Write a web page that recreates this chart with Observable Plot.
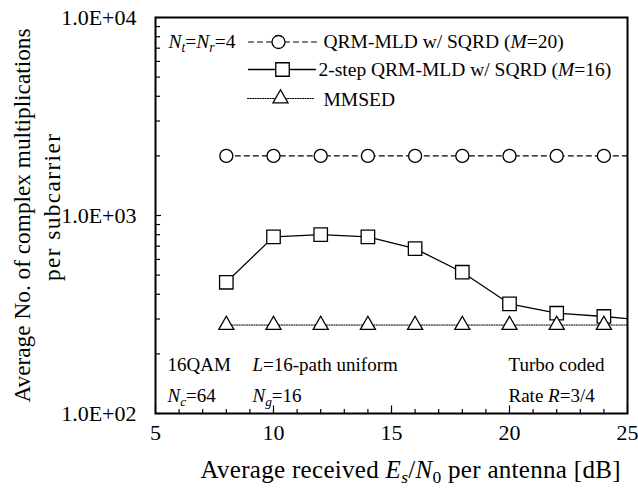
<!DOCTYPE html>
<html>
<head>
<meta charset="utf-8">
<script src="https://cdn.jsdelivr.net/npm/d3@7"></script>
<script src="https://cdn.jsdelivr.net/npm/@observablehq/plot@0.6"></script>
<style>
  html, body { margin: 0; padding: 0; background: white; }
  svg, svg text { font-family: "Liberation Serif", "Times New Roman", serif !important; }
</style>
</head>
<body>
<div id="chart"></div>
<script>
// ---------- data ----------
const snr = [8, 10, 12, 14, 16, 18, 20, 22, 24];
const qrm20 = [2000, 2000, 2000, 2000, 2000, 2000, 2000, 2000, 2000];
const twoStep16 = [460, 780, 800, 780, 680, 517, 358, 321, 309];
const mmsed = [280, 280, 280, 280, 280, 280, 280, 280, 280];
// values where the curves meet the right edge of the frame (25 dB)
const edgeSnr = 25;
const edgeValues = {qrm: 2000, two: 301, mmsed: 280};

const xMajorTicks = [5, 10, 15, 20, 25];
const xTickLabels = ["5", "10", "15", "20", "25"];
const xMinorTicks = [6, 7, 8, 9, 11, 12, 13, 14, 16, 17, 18, 19, 21, 22, 23, 24];
const yMajorTicks = [100, 1000, 10000];
const yTickLabels = ["1.0E+02", "1.0E+03", "1.0E+04"];
const yMinorTicks = [200, 300, 400, 500, 600, 700, 800, 900, 2000, 3000, 4000, 5000, 6000, 7000, 8000, 9000];

const seriesNames = ["QRM-MLD w/ SQRD (*M*=20)", "2-step QRM-MLD w/ SQRD (*M*=16)", "MMSED"];
const xTitle = "Average received *E*_{s}/*N*_(0) per antenna [dB]";
const yTitle1 = "Average No. of complex multiplications";
const yTitle2 = "per subcarrier";
const noteTopLeft = "*N*_{t}=*N*_{r}=4";
const notesBottom = [
  ["16QAM", "*N*_{c}=64"],
  ["*L*=16-path uniform", "*N*_{g}=16"],
  ["Turbo coded", "Rate *R*=3/4"]
];

// ---------- tables ----------
const rows = (vals) => snr.map((s, i) => ({snr: s, value: vals[i]}));
const qrmPts = rows(qrm20), twoPts = rows(twoStep16), mmPts = rows(mmsed);
const qrmLine = [...qrmPts, {snr: edgeSnr, value: edgeValues.qrm}];
const twoLine = [...twoPts, {snr: edgeSnr, value: edgeValues.two}];
const mmLine = [...mmPts, {snr: edgeSnr, value: edgeValues.mmsed}];

// ---------- styles / layout ----------
const FONT = '"Liberation Serif", "Times New Roman", serif';
const TICK_FS = 22, XTITLE_FS = 25, YTITLE_FS = 23.3, LEGEND_FS = 19.5, NOTE_FS = 19;
const textLengths = {[yTitle2]: 147, [xTitle]: 420};
const lineShape = {draw(ctx, l) { ctx.moveTo(0, 0); ctx.lineTo(0, -l); }};
const styles = [
  {dash: "5,4", sw: 1.2, symbol: "circle", r: 6.5},
  {dash: null, sw: 1.3, symbol: "square", r: 7.6},
  {dash: "1.2,1.3", sw: 1.1, symbol: "triangle", r: 5.6}
];
const legendRows = [
  {dy: 24.5, lineDx: 93, len: 70, symDx: 123, textDx: 168, textDy: 24},
  {dy: 52, lineDx: 93, len: 67, symDx: 127, textDx: 163, textDy: 52},
  {dy: 81, lineDx: 92, len: 66, symDx: 125, textDx: 168, textDy: 82}
];

const marks = [];
// frame ticks
marks.push(Plot.axisX({ticks: xMinorTicks, tickSize: -4, tickFormat: () => "", label: null, strokeWidth: 1.2}));
marks.push(Plot.axisX({ticks: xMajorTicks, tickSize: -7.5, tickFormat: () => "", label: null, strokeWidth: 1.2}));
marks.push(Plot.axisX({ticks: xMajorTicks, tickSize: 0, tickPadding: 11, tickFormat: (d) => xTickLabels[xMajorTicks.indexOf(d)], label: null, fontSize: TICK_FS, fontFamily: FONT}));
marks.push(Plot.axisY({ticks: yMinorTicks, tickSize: -5, tickFormat: () => "", label: null, strokeWidth: 1.2}));
marks.push(Plot.axisY({ticks: yMajorTicks, tickSize: -6, tickFormat: () => "", label: null, strokeWidth: 1.2}));
marks.push(Plot.axisY({ticks: yMajorTicks, tickSize: 0, tickPadding: 19, tickFormat: (d) => yTickLabels[yMajorTicks.indexOf(d)], label: null, fontSize: TICK_FS, fontFamily: FONT}));

// series lines
[qrmLine, twoLine, mmLine].forEach((data, i) => {
  marks.push(Plot.line(data, {x: "snr", y: "value", stroke: "black", strokeWidth: styles[i].sw, strokeDasharray: styles[i].dash, clip: true}));
});
// series markers
[qrmPts, twoPts, mmPts].forEach((data, i) => {
  marks.push(Plot.dot(data, {x: "snr", y: "value", symbol: styles[i].symbol, r: styles[i].r, fill: "white", stroke: "black", strokeWidth: 1.3}));
});

// frame
marks.push(Plot.frame({stroke: "black", strokeWidth: 2}));

// legend
legendRows.forEach((L, i) => {
  marks.push(Plot.vector([0], {frameAnchor: "top-left", dx: L.lineDx, dy: L.dy, length: L.len, rotate: 90, anchor: "start", shape: lineShape, stroke: "black", strokeWidth: styles[i].sw, strokeDasharray: styles[i].dash}));
  marks.push(Plot.dot([0], {frameAnchor: "top-left", dx: L.symDx, dy: L.dy, symbol: styles[i].symbol, r: styles[i].r, fill: "white", stroke: "black", strokeWidth: 1.3}));
  marks.push(Plot.text([seriesNames[i]], {text: d => d, frameAnchor: "top-left", dx: L.textDx, dy: L.textDy, textAnchor: "start", lineAnchor: "middle", fontSize: LEGEND_FS, fontFamily: FONT, fill: "black"}));
});
marks.push(Plot.text([noteTopLeft], {text: d => d, frameAnchor: "top-left", dx: 13, dy: 24, textAnchor: "start", lineAnchor: "middle", fontSize: LEGEND_FS, fontFamily: FONT, fill: "black"}));

// bottom notes
const noteDx = [12, 97, 353];
const noteDy = [-48.5, -17.5];
notesBottom.forEach((col, c) => col.forEach((t, r) => {
  marks.push(Plot.text([t], {text: d => d, frameAnchor: "bottom-left", dx: noteDx[c], dy: noteDy[r], textAnchor: "start", lineAnchor: "middle", fontSize: NOTE_FS, fontFamily: FONT, fill: "black"}));
}));

// axis titles
marks.push(Plot.text([xTitle], {text: d => d, frameAnchor: "bottom", dx: 19, dy: 56, textAnchor: "middle", lineAnchor: "middle", fontSize: XTITLE_FS, fontFamily: FONT, fill: "black"}));
marks.push(Plot.text([yTitle1], {text: d => d, frameAnchor: "left", dx: -133, dy: 0, rotate: -90, textAnchor: "middle", lineAnchor: "middle", fontSize: YTITLE_FS, fontFamily: FONT, fill: "black"}));
marks.push(Plot.text([yTitle2], {text: d => d, frameAnchor: "left", dx: -103, dy: -8, rotate: -90, textAnchor: "middle", lineAnchor: "middle", fontSize: YTITLE_FS, fontFamily: FONT, fill: "black"}));

const svg = Plot.plot({
  width: 638,
  height: 491,
  marginLeft: 155,
  marginRight: 11,
  marginTop: 17,
  marginBottom: 78,
  style: {fontFamily: FONT, background: "white", color: "black", overflow: "visible"},
  x: {domain: [5, 25]},
  y: {type: "log", domain: [100, 10000]},
  marks
});
svg.setAttribute("font-family", FONT);
document.getElementById("chart").append(svg);

// ---------- rich text (italics and subscripts) and fitted widths ----------
const tokenRe = /\*([^*]+)\*|_\{([^}]+)\}|_\(([^)]+)\)|([^*_]+)/g;
svg.querySelectorAll("text").forEach(el => {
  const s = el.textContent;
  const fitted = textLengths[s];
  if (/[*_]/.test(s)) {
    const fs = parseFloat(getComputedStyle(el).fontSize) || NOTE_FS;
    const shift = 0.22 * fs;
    while (el.firstChild) el.removeChild(el.firstChild);
    let sub = false;
    let m;
    tokenRe.lastIndex = 0;
    while ((m = tokenRe.exec(s))) {
      const ts = document.createElementNS("http://www.w3.org/2000/svg", "tspan");
      let isSub = false;
      if (m[1] !== undefined) { ts.textContent = m[1]; ts.setAttribute("font-style", "italic"); }
      else if (m[2] !== undefined) { ts.textContent = m[2]; ts.setAttribute("font-style", "italic"); isSub = true; }
      else if (m[3] !== undefined) { ts.textContent = m[3]; isSub = true; }
      else { ts.textContent = m[4]; }
      if (isSub) {
        ts.setAttribute("font-size", (fs * 0.7) + "px");
        if (!sub) ts.setAttribute("dy", shift);
      } else if (sub) {
        ts.setAttribute("dy", -shift);
      }
      sub = isSub;
      el.appendChild(ts);
    }
  }
  if (fitted) {
    el.setAttribute("textLength", fitted);
    el.setAttribute("lengthAdjust", "spacing");
  }
});
</script>
</body>
</html>
